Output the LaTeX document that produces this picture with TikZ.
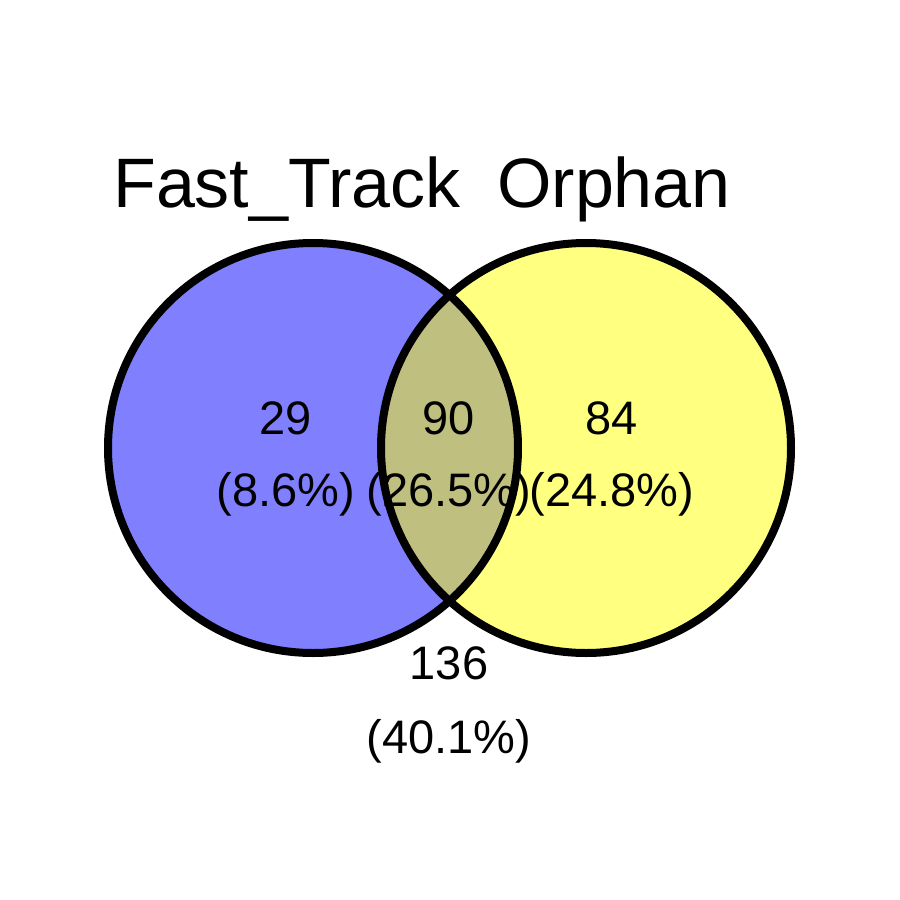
\documentclass[tikz,border=0pt]{standalone}
\usepackage{fontspec}
\setmainfont{Liberation Sans}
\begin{document}
\begin{tikzpicture}[x=1pt,y=-1pt,
  ring/.style={circle,draw=black,line width=8pt,minimum size=410pt,inner sep=0pt},
  num/.style={anchor=base,inner sep=0pt,font=\fontsize{47}{47}\selectfont},
  ttl/.style={anchor=base,inner sep=0pt,font=\fontsize{70}{70}\selectfont}]
\useasboundingbox[fill=white] (0,0) rectangle (900,900);
\definecolor{cA}{HTML}{8080FF}
\definecolor{cB}{HTML}{FFFF80}
\definecolor{cAB}{HTML}{BFBF80}
\fill[cA] (313,448) circle (205);
\fill[cB] (586,448) circle (205);
\begin{scope}
  \clip (313,448) circle (205);
  \fill[cAB] (586,448) circle (205);
\end{scope}
\node[ring] (left) at (313,448) {};
\node[ring] (right) at (586,448) {};
\node[ttl] (tA) at (287,207) {Fast\_Track};
\node[ttl] (tB) at (614,207) {Orphan};
\node[num] (n1) at (286,434) {29};
\node[num] (p1) at (286,506) {(8.6\%)};
\node[num] (n2) at (449,434) {90};
\node[num] (p2) at (449,506) {(26.5\%)};
\node[num] (n3) at (612,434) {84};
\node[num] (p3) at (612,506) {(24.8\%)};
\node[num] (n4) at (449,679) {136};
\node[num] (p4) at (449,753) {(40.1\%)};
\end{tikzpicture}
\end{document}
